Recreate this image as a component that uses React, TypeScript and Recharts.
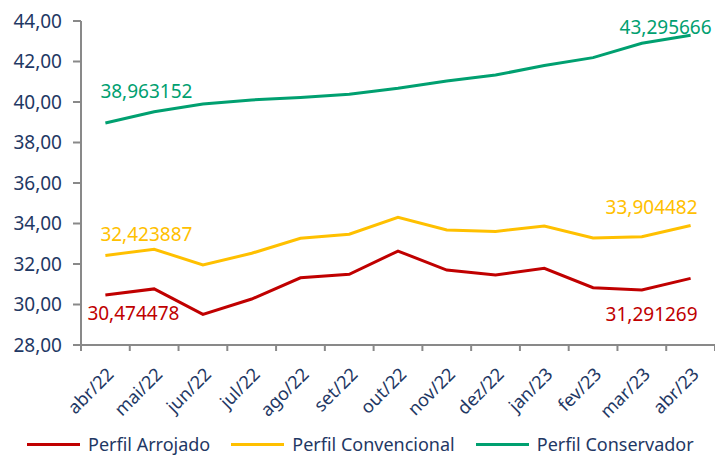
import React from "react";
import { LineChart, Line, XAxis, YAxis, LabelList } from "recharts";

//========== Data ===========

const months = [
  "abr/22", "mai/22", "jun/22", "jul/22", "ago/22", "set/22", "out/22",
  "nov/22", "dez/22", "jan/23", "fev/23", "mar/23", "abr/23",
];

const arrojado = [30.474478, 30.77, 29.51, 30.27, 31.32, 31.49, 32.64, 31.7, 31.46, 31.79, 30.83, 30.72, 31.291269];
const convencional = [32.423887, 32.73, 31.95, 32.53, 33.27, 33.47, 34.31, 33.68, 33.61, 33.88, 33.28, 33.35, 33.904482];
const conservador = [38.963152, 39.52, 39.9, 40.1, 40.22, 40.38, 40.68, 41.04, 41.33, 41.8, 42.19, 42.9, 43.295666];

const yTicks = [28, 30, 32, 34, 36, 38, 40, 42, 44];

const data = months.map((m, i) => ({
  month: m,
  arrojado: arrojado[i],
  convencional: convencional[i],
  conservador: conservador[i],
}));

const FONT = "'Noto Sans', sans-serif";
const NAVY = "#1F3864";
const AXIS = "#898989";

const series = [
  { key: "arrojado", name: "Perfil Arrojado", color: "#C00000" },
  { key: "convencional", name: "Perfil Convencional", color: "#FFC000" },
  { key: "conservador", name: "Perfil Conservador", color: "#00A070" },
];

const fmt = (v: number) => v.toFixed(6).replace(".", ",");

// plot spans x 81..715, 13 category bands
const HALF_BAND = (715 - 81) / 13 / 2;

// label placement for first / last point of each series
const labelPos: Record<string, { first: [number, number, string]; last: [number, number, string] }> = {
  arrojado: { first: [-18, 18, "start"], last: [7, 36, "end"] },
  convencional: { first: [-5, -21, "start"], last: [7, -18, "end"] },
  conservador: { first: [-5, -32, "start"], last: [21, -8, "end"] },
};

const makeLabel = (key: string, color: string) => (props: any) => {
  const { x, y, index, value } = props;
  const last = months.length - 1;
  if (index !== 0 && index !== last) return null;
  const [dx, dy, anchor] = index === 0 ? labelPos[key].first : labelPos[key].last;
  return (
    <text
      x={x + dx}
      y={y + dy}
      dy="0.35em"
      textAnchor={anchor as any}
      fill={color}
      style={{ fontFamily: FONT, fontSize: 19 }}
    >
      {fmt(value)}
    </text>
  );
};

// tick marks sit on band edges, labels on band centres
const MonthTick = (props: any) => {
  const { x, y, payload, index } = props;
  const isLast = index === months.length - 1;
  return (
    <g>
      <line x1={x - HALF_BAND} x2={x - HALF_BAND} y1={y} y2={y + 6} stroke={AXIS} strokeWidth={2} />
      {isLast && (
        <line x1={x + HALF_BAND} x2={x + HALF_BAND} y1={y} y2={y + 6} stroke={AXIS} strokeWidth={2} />
      )}
      <g transform={`translate(${x + 5},${y + 26})`}>
        <text
          textAnchor="end"
          dy="0.35em"
          transform="rotate(-45)"
          fill={NAVY}
          style={{ fontFamily: FONT, fontSize: 18 }}
        >
          {payload.value}
        </text>
      </g>
    </g>
  );
};

const LegendRow = () => (
  <div
    style={{
      position: "absolute",
      top: 432,
      left: 27,
      height: 25,
      display: "flex",
      alignItems: "center",
      fontFamily: FONT,
      fontSize: 18,
      lineHeight: "25px",
      color: NAVY,
      whiteSpace: "nowrap",
    }}
  >
    {series.map((s) => (
      <div key={s.key} style={{ display: "flex", alignItems: "center", marginRight: 21 }}>
        <div style={{ width: 53, height: 3, background: s.color, marginRight: 8 }} />
        <span>{s.name}</span>
      </div>
    ))}
  </div>
);

//========== Chart ===========

export default function App() {
  return (
    <div style={{ position: "absolute", top: 0, left: 0, width: 715, height: 457, background: "#fff", overflow: "hidden" }}>
      <LineChart
        width={715}
        height={457}
        data={data}
        margin={{ top: 21, right: 0, left: 0, bottom: 27 }}
      >
        <XAxis
          dataKey="month"
          height={85}
          stroke={AXIS}
          strokeWidth={2}
          tickLine={false}
          tickSize={0}
          tickMargin={0}
          tick={<MonthTick />}
          interval={0}
          padding={{ left: HALF_BAND, right: HALF_BAND }}
        />
        <YAxis
          width={81}
          domain={[28, 44]}
          ticks={yTicks}
          stroke={AXIS}
          strokeWidth={2}
          tickSize={8}
          tickMargin={11}
          tickFormatter={(v: number) => v.toFixed(2).replace(".", ",")}
          tick={{ fill: NAVY, fontFamily: FONT, fontSize: 19 }}
          interval={0}
        />
        {series.map((s) => (
          <Line
            key={s.key}
            type="linear"
            dataKey={s.key}
            name={s.name}
            stroke={s.color}
            strokeWidth={3}
            dot={false}
            isAnimationActive={false}
          >
            <LabelList dataKey={s.key} content={makeLabel(s.key, s.color)} />
          </Line>
        ))}
      </LineChart>
      <LegendRow />
    </div>
  );
}
